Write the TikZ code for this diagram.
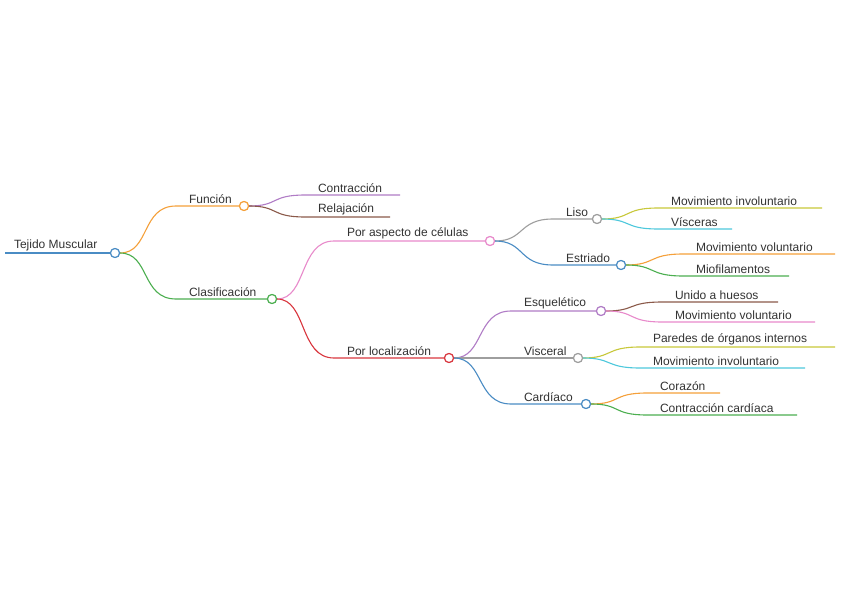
\documentclass[tikz,border=0pt]{standalone}
\usepackage{fontspec}
\setmainfont{Liberation Sans}
\definecolor{cblue}{HTML}{4A8CC4}
\definecolor{corange}{HTML}{F5A03A}
\definecolor{cgreen}{HTML}{4CAF50}
\definecolor{cpurple}{HTML}{B07CC6}
\definecolor{cbrown}{HTML}{8B5A4A}
\definecolor{cpink}{HTML}{E88ACB}
\definecolor{cred}{HTML}{D9363E}
\definecolor{cgrey}{HTML}{9E9E9E}
\definecolor{cyg}{HTML}{C8C83A}
\definecolor{ccyan}{HTML}{4DC8DC}
\begin{document}
\begin{tikzpicture}[x=1pt,y=-1pt,line width=1.1pt,
  dot/.style={circle,draw=#1,fill=white,line width=1.1pt,minimum size=9pt,inner sep=0pt},
  lbl/.style={anchor=south west,inner sep=1.5pt,font=\fontsize{12}{14}\selectfont,text=black!80}]
\fill[white] (0,0) rectangle (848,599);
\useasboundingbox (0,0) rectangle (848,599);
% root
\coordinate (rs) at (5,253);
\draw[cblue] (rs) -- (115,253);
\node[lbl] (rt) at (12,253) {Tejido Muscular};
\node[dot=cblue] (r) at (115,253) {};
% macro-like branches
\newcommand{\branch}[8]{% parent, name, color, xs, y, xe, text x, text ; #6 end
  \coordinate (#2s) at (#4,#5);
  \coordinate (#2e) at (#6,#5);
  \draw[#3] (#1) .. controls +(35,0) and +(-35,0) .. (#2s) -- (#2e);
  \node[lbl] (#2t) at (#7,#5) {#8};}
\branch{r}{fu}{corange}{176}{206}{244}{187}{Función}
\node[dot=corange] (fu) at (244,206) {};
\branch{r}{cl}{cgreen}{176}{299}{272}{187}{Clasificación}
\node[dot=cgreen] (cl) at (272,299) {};
\branch{fu}{co}{cpurple}{305}{195}{400}{316}{Contracción}
\branch{fu}{re}{cbrown}{305}{217}{390}{316}{Relajación}
\branch{cl}{pa}{cpink}{334}{241}{490}{345}{Por aspecto de células}
\node[dot=cpink] (pa) at (490,241) {};
\branch{cl}{pl}{cred}{334}{358}{449}{345}{Por localización}
\node[dot=cred] (pl) at (449,358) {};
\branch{pa}{li}{cgrey}{553}{219}{597}{564}{Liso}
\node[dot=cgrey] (li) at (597,219) {};
\branch{pa}{es}{cblue}{553}{265}{621}{564}{Estriado}
\node[dot=cblue] (es) at (621,265) {};
\branch{li}{mi}{cyg}{658}{208}{822}{669}{Movimiento involuntario}
\branch{li}{vi}{ccyan}{658}{229}{732}{669}{Vísceras}
\branch{es}{mv}{corange}{683}{254}{835}{694}{Movimiento voluntario}
\branch{es}{mf}{cgreen}{683}{276}{789}{694}{Miofilamentos}
\branch{pl}{sq}{cpurple}{511}{311}{601}{522}{Esquelético}
\node[dot=cpurple] (sq) at (601,311) {};
\branch{pl}{vs}{cgrey}{511}{358}{578}{522}{Visceral}
\node[dot=cgrey] (vs) at (578,358) {};
\branch{pl}{ca}{cblue}{511}{404}{586}{522}{Cardíaco}
\node[dot=cblue] (ca) at (586,404) {};
\branch{sq}{uh}{cbrown}{662}{302}{778}{673}{Unido a huesos}
\branch{sq}{mv2}{cpink}{662}{322}{815}{673}{Movimiento voluntario}
\branch{vs}{po}{cyg}{640}{347}{835}{651}{Paredes de órganos internos}
\branch{vs}{mi2}{ccyan}{640}{368}{805}{651}{Movimiento involuntario}
\branch{ca}{cz}{corange}{647}{393}{720}{658}{Corazón}
\branch{ca}{cc}{cgreen}{647}{415}{797}{658}{Contracción cardíaca}
% redraw dots on top
\foreach \n/\c/\x/\y in {r/cblue/115/253,fu/corange/244/206,cl/cgreen/272/299,pa/cpink/490/241,pl/cred/449/358,li/cgrey/597/219,es/cblue/621/265,sq/cpurple/601/311,vs/cgrey/578/358,ca/cblue/586/404}
  \node[dot=\c] at (\x,\y) {};
\end{tikzpicture}
\end{document}
